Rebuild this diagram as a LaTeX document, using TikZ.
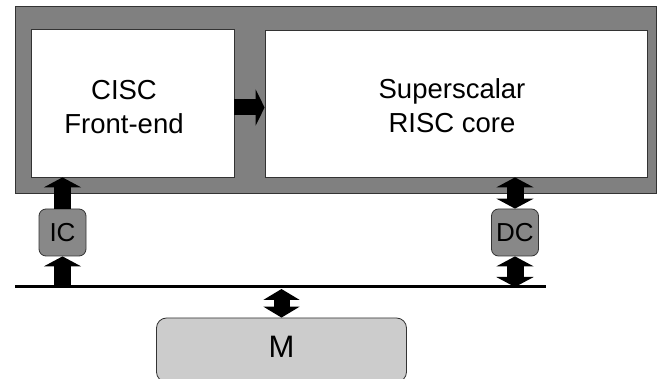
\documentclass[tikz,border=0pt]{standalone}
\usepackage{fontspec}
\setmainfont{Liberation Sans}
\usetikzlibrary{arrows.meta}
\definecolor{framegray}{HTML}{808080}
\definecolor{cachegray}{HTML}{888888}
\definecolor{memgray}{HTML}{CCCCCC}
\definecolor{edgegray}{HTML}{333333}
\tikzset{
  unitbox/.style={draw=edgegray, line width=0.8pt, fill=white, inner sep=0pt},
  cachebox/.style={draw=edgegray, line width=0.8pt, fill=cachegray, rounded corners=7pt,
    minimum width=47pt, minimum height=47pt, inner sep=0pt, font=\fontsize{26}{30}\selectfont},
  boxtext/.style={align=center, font=\fontsize{27.5}{34}\selectfont},
  blk/.tip={Triangle[width=37pt,length=10pt]},
  fatarrow/.style={line width=17pt, line cap=butt, -{blk}},
  fatdouble/.style={line width=17pt, line cap=butt, {blk}-{blk}},
}
\begin{document}
\begin{tikzpicture}[x=1pt,y=-1pt]
\useasboundingbox (0,0) rectangle (657,379);
\clip (0,0) rectangle (657,379);

% processor frame
\node[draw=edgegray, line width=0.8pt, fill=framegray, minimum width=641pt, minimum height=187pt,
  inner sep=0pt] (cpu) at (335.5,99.5) {};

% functional units
\node[unitbox, minimum width=203pt, minimum height=148pt] (fe) at (132.5,103) {};
\node[unitbox, minimum width=382pt, minimum height=147pt] (core) at (456,103.5) {};
\node[boxtext] (fetext) at (124,107) {CISC\\Front-end};
\node[boxtext] (coretext) at (452,106) {Superscalar\\RISC core};

% caches
\node[cachebox] (ic) at (62.5,232.5) {IC};
\node[cachebox] (dc) at (515,232.5) {DC};

% memory
\node[draw=edgegray, line width=0.8pt, fill=memgray, rounded corners=10pt,
  minimum width=250pt, minimum height=64pt, inner sep=0pt] (mem) at (281.5,350) {};
\node[font=\fontsize{31}{36}\selectfont] (memtext) at (281.5,347) {M};

% bus
\coordinate (busL) at (15,287);
\coordinate (busR) at (546,287);
\draw[line width=3pt] (busL) -- (busR);
\coordinate (icbus) at (62.5,287);
\coordinate (dcbus) at (515,287);
\coordinate (membus) at (281.5,289);

% front-end to core
\draw[line width=16pt, line cap=butt, -{Triangle[width=36pt,length=9pt]}]
  (fe.east |- 0,107.5) -- (core.west |- 0,107.5);

% instruction path
\draw[fatarrow] (ic.north) -- (fe.south -| ic.north);
\draw[fatarrow] (icbus) -- (ic.south);

% data path
\draw[fatdouble] (dc.north) -- (core.south -| dc.north);
\draw[fatdouble] (dcbus) -- (dc.south);

% memory connection
\draw[line width=16pt, line cap=butt, {Triangle[width=36pt,length=11pt]}-{Triangle[width=36pt,length=11pt]}]
  (membus) -- (mem.north);
\end{tikzpicture}
\end{document}
